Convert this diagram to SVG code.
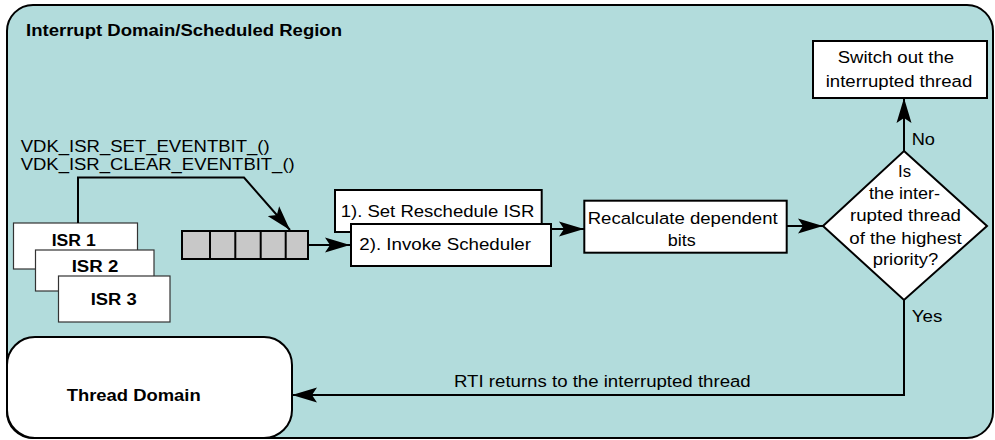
<svg xmlns="http://www.w3.org/2000/svg" width="995" height="440" viewBox="0 0 995 440">
<style>
text{font-family:"Liberation Sans",Arial,sans-serif;font-size:16.8px;fill:#000}
.b{font-weight:bold}
.t{font-size:16px}
.box{fill:#fff;stroke:#000;stroke-width:2}
.isr{fill:#fff;stroke:#333;stroke-width:1.2}
.cell{fill:#c8c8c8;stroke:#000;stroke-width:2}
.c{fill:none;stroke:#000;stroke-width:2}
</style>
<defs>
<marker id="ah" markerUnits="userSpaceOnUse" markerWidth="26" markerHeight="16" viewBox="0 0 26 16" refX="25" refY="8" orient="auto">
<path d="M0,0.5 L25,8 L0,15.5 L5,8 z" fill="#000"/>
</marker>
</defs>
<g id="region">
<rect x="7" y="5" width="986" height="433" rx="26" fill="#b2dcdc" stroke="#000" stroke-width="2"/>
<text class="b t" x="26" y="36" textLength="316" lengthAdjust="spacingAndGlyphs">Interrupt Domain/Scheduled Region</text>
</g>
<g id="api-label">
<text x="20.7" y="151.7" textLength="249" lengthAdjust="spacingAndGlyphs">VDK_ISR_SET_EVENTBIT_()</text>
<text x="20.7" y="170" textLength="274" lengthAdjust="spacingAndGlyphs">VDK_ISR_CLEAR_EVENTBIT_()</text>
</g>
<g id="isr1">
<rect class="isr" x="13.5" y="223" width="124" height="46"/>
<text class="b" x="51.7" y="245.7" textLength="44" lengthAdjust="spacingAndGlyphs">ISR 1</text>
</g>
<g id="isr2">
<rect class="isr" x="35.5" y="250" width="118.5" height="41"/>
<text class="b" x="71.7" y="271.7" textLength="46.6" lengthAdjust="spacingAndGlyphs">ISR 2</text>
</g>
<g id="isr3">
<rect class="isr" x="58.5" y="276" width="111.5" height="46"/>
<text class="b" x="90.7" y="305" textLength="46" lengthAdjust="spacingAndGlyphs">ISR 3</text>
</g>
<g id="queue">
<rect class="cell" x="182" y="231" width="126" height="28"/>
<path class="c" d="M210,231V259M235.3,231V259M260.7,231V259M285.7,231V259"/>
</g>
<g id="set-resched">
<rect class="box" x="335" y="190" width="206.7" height="42"/>
<text x="340.7" y="216.7" textLength="193.6" lengthAdjust="spacingAndGlyphs">1). Set Reschedule ISR</text>
</g>
<g id="invoke-sched">
<rect class="box" x="351" y="224" width="200" height="42"/>
<text x="359.3" y="250" textLength="171.7" lengthAdjust="spacingAndGlyphs">2). Invoke Scheduler</text>
</g>
<g id="recalc">
<rect class="box" x="584.3" y="200.7" width="202.4" height="52"/>
<text x="587.7" y="224" textLength="190" lengthAdjust="spacingAndGlyphs">Recalculate dependent</text>
<text x="667.7" y="245.7" textLength="28" lengthAdjust="spacingAndGlyphs">bits</text>
</g>
<g id="decision">
<polygon class="box" points="904,151 987,226 904,300 823,226"/>
<text x="898" y="176.7" textLength="13" lengthAdjust="spacingAndGlyphs">Is</text>
<text x="869" y="199.3" textLength="71" lengthAdjust="spacingAndGlyphs">the inter-</text>
<text x="850" y="221" textLength="111" lengthAdjust="spacingAndGlyphs">rupted thread</text>
<text x="849.3" y="243.7" textLength="112.4" lengthAdjust="spacingAndGlyphs">of the highest</text>
<text x="872.7" y="265" textLength="65.6" lengthAdjust="spacingAndGlyphs">priority?</text>
</g>
<g id="switch-out">
<rect class="box" x="813" y="41" width="174" height="57"/>
<text x="837.7" y="63.3" textLength="116.3" lengthAdjust="spacingAndGlyphs">Switch out the</text>
<text x="825.7" y="86.7" textLength="146.6" lengthAdjust="spacingAndGlyphs">interrupted thread</text>
</g>
<g id="thread-domain">
<rect x="7" y="337" width="285" height="101" rx="28" fill="#fff" stroke="#000" stroke-width="2"/>
<text class="b" x="66.7" y="401" textLength="134" lengthAdjust="spacingAndGlyphs">Thread Domain</text>
</g>
<g id="connectors">
<polyline class="c" points="78,223 78,177.5 244,177.5 290,230" marker-end="url(#ah)"/>
<line class="c" x1="308" y1="245" x2="350" y2="245" marker-end="url(#ah)"/>
<line class="c" x1="551" y1="229" x2="584" y2="229" marker-end="url(#ah)"/>
<line class="c" x1="787" y1="226" x2="823" y2="226" marker-end="url(#ah)"/>
<line class="c" x1="904" y1="151" x2="904" y2="98" marker-end="url(#ah)"/>
<polyline class="c" points="904,300 904,395 292,395" marker-end="url(#ah)"/>
<text x="911.7" y="145" textLength="23.3" lengthAdjust="spacingAndGlyphs">No</text>
<text x="911.7" y="321.7" textLength="30.6" lengthAdjust="spacingAndGlyphs">Yes</text>
<text x="454" y="386.7" textLength="296.7" lengthAdjust="spacingAndGlyphs">RTI returns to the interrupted thread</text>
</g>
</svg>
